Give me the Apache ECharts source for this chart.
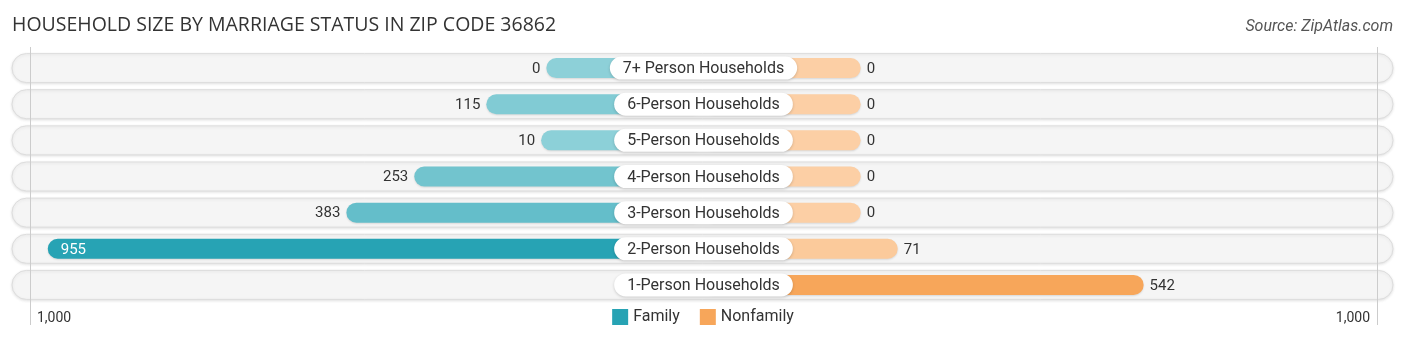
<!DOCTYPE html>
<html>
<head>
<meta charset="utf-8">
<script src="https://cdn.jsdelivr.net/npm/echarts@6/dist/echarts.min.js"></script>
<style>
  html, body { margin: 0; padding: 0; background: #ffffff; }
  #chart { width: 1406px; height: 341px; }
</style>
</head>
<body>
<div id="chart"></div>
<script>
// ---- data ----
const categories = ['7+ Person Households', '6-Person Households', '5-Person Households', '4-Person Households', '3-Person Households', '2-Person Households', '1-Person Households'];
const familyValues = [0, 115, 10, 253, 383, 955, null];
const nonfamilyValues = [0, 0, 0, 0, 0, 71, 542];
const tickLabels = ['1,000', '1,000'];
const seriesNames = ['Family', 'Nonfamily'];

// ---- styling constants ----
const AXIS_MAX = 1290;      // axis half-range in value units
const BAR_OFFSET = 301;     // bars start under the centre label
const FAMILY_DARK = [39, 163, 180], FAMILY_LIGHT = [141, 208, 216];
const NON_DARK = [247, 166, 90], NON_LIGHT = [252, 207, 165];
const FONT = 'Roboto, "Noto Sans", sans-serif';

function mix(a, b, t) {
  const c = a.map((v, i) => Math.round(b[i] + (v - b[i]) * t));
  return 'rgb(' + c.join(',') + ')';
}
const famMax = Math.max(...familyValues.filter(v => v != null));
const nonMax = Math.max(...nonfamilyValues.filter(v => v != null));

function barRenderer(side, dark, light, maxV) {
  return function (params, api) {
    const cat = api.value(0), v = api.value(1);
    if (v == null || isNaN(v)) return null;
    const p0 = api.coord([0, cat]);
    const p1 = api.coord([side * (BAR_OFFSET + v), cat]);
    const h = 20;
    const x = Math.min(p0[0], p1[0]);
    const w = Math.abs(p1[0] - p0[0]);
    const cs = params.coordSys;
    const inside = w > 0.8 * (cs.width / 2);
    const fill = mix(dark, light, maxV > 0 ? v / maxV : 0);
    const label = v.toLocaleString('en-US');
    let tx, align, color;
    if (inside) {
      tx = side < 0 ? p1[0] + 13 : p1[0] - 13;
      align = side < 0 ? 'left' : 'right';
      color = '#ffffff';
    } else {
      tx = side < 0 ? p1[0] - 6 : p1[0] + 6;
      align = side < 0 ? 'right' : 'left';
      color = '#333333';
    }
    return {
      type: 'group',
      children: [
        { type: 'rect', shape: { x: x, y: p0[1] - h / 2, width: w, height: h, r: h / 2 },
          style: { fill: fill, shadowBlur: 2, shadowColor: 'rgba(0,0,0,0.12)', shadowOffsetY: 1 } },
        { type: 'text', style: { x: tx, y: p0[1] + 1, text: label, align: align, verticalAlign: 'middle',
          fill: color, font: '15px ' + FONT } }
      ]
    };
  };
}

const chart = echarts.init(document.getElementById('chart'), null, { renderer: 'canvas' });

const option = {
  animation: false,
  backgroundColor: '#ffffff',
  title: [
    { text: 'HOUSEHOLD SIZE BY MARRIAGE STATUS IN ZIP CODE 36862', left: 7, top: 10,
      textStyle: { fontFamily: '"Open Sans", "DejaVu Sans", sans-serif', fontWeight: 'normal', fontSize: 19.5, color: '#333333' } },
    { text: 'Source: ZipAtlas.com', right: 8, top: 14,
      textStyle: { fontFamily: FONT, fontStyle: 'italic', fontWeight: 'normal', fontSize: 16, color: '#555555' } }
  ],
  legend: {
    data: seriesNames,
    bottom: 11,
    left: 'center',
    icon: 'rect',
    itemWidth: 16,
    itemHeight: 16,
    itemGap: 20,
    textStyle: { fontFamily: FONT, fontSize: 16, color: '#333333' }
  },
  grid: { left: 30, right: 29, top: 50, height: 253 },
  xAxis: {
    type: 'value',
    min: -AXIS_MAX, max: AXIS_MAX, interval: AXIS_MAX,
    axisLine: { show: false }, axisTick: { show: false }, splitLine: { show: false },
    axisLabel: {
      show: true, margin: 8, color: '#333333', fontFamily: FONT, fontSize: 14,
      alignMinLabel: 'left', alignMaxLabel: 'right',
      formatter: function (v) {
        if (v < 0) return '{l|' + tickLabels[0] + '}';
        if (v > 0) return '{r|' + tickLabels[1] + '}';
        return '';
      },
      rich: {
        l: { padding: [0, 0, 0, 7], fontSize: 14, color: '#333333', fontFamily: FONT },
        r: { padding: [0, 7, 0, 0], fontSize: 14, color: '#333333', fontFamily: FONT }
      }
    }
  },
  yAxis: {
    type: 'category', data: categories, inverse: true,
    axisLine: { show: false }, axisTick: { show: false }, axisLabel: { show: false }, splitLine: { show: false }
  },
  series: [
    {
      type: 'custom', name: 'bg', z: 1, silent: true,
      data: categories.map((c, i) => [i]),
      renderItem: function (params, api) {
        const p = api.coord([0, api.value(0)]);
        const cs = params.coordSys;
        const h = 29;
        return { type: 'rect', shape: { x: cs.x - 18, y: p[1] - h / 2, width: cs.width + 34, height: h, r: h / 2 },
          style: { fill: '#f5f5f5', stroke: '#dddddd', lineWidth: 1, shadowBlur: 3, shadowColor: 'rgba(0,0,0,0.10)', shadowOffsetY: 1 } };
      }
    },
    {
      type: 'custom', name: 'grid', z: 2, silent: true,
      data: [[-AXIS_MAX], [AXIS_MAX]],
      renderItem: function (params, api) {
        const p = api.coord([api.value(0), 0]);
        const cs = params.coordSys;
        return { type: 'line', shape: { x1: Math.round(p[0]) + 0.5, y1: cs.y - 3, x2: Math.round(p[0]) + 0.5, y2: cs.y + cs.height + 22 },
          style: { stroke: '#cccccc', lineWidth: 1 } };
      }
    },
    {
      type: 'custom', name: 'Family', z: 3,
      itemStyle: { color: 'rgb(39,163,180)' },
      data: familyValues.map((v, i) => [i, v == null ? '-' : v]),
      encode: { x: 1, y: 0 },
      renderItem: barRenderer(-1, FAMILY_DARK, FAMILY_LIGHT, famMax)
    },
    {
      type: 'custom', name: 'Nonfamily', z: 3,
      itemStyle: { color: 'rgb(247,166,90)' },
      data: nonfamilyValues.map((v, i) => [i, v == null ? '-' : v]),
      encode: { x: 1, y: 0 },
      renderItem: barRenderer(1, NON_DARK, NON_LIGHT, nonMax)
    },
    {
      type: 'custom', name: 'labels', z: 4, silent: true,
      data: categories.map((c, i) => [i]),
      renderItem: function (params, api) {
        const i = api.value(0);
        const p = api.coord([0, i]);
        const text = categories[i];
        const tw = echarts.format.getTextRect ? echarts.format.getTextRect(text, '16px ' + FONT).width : text.length * 8;
        const w = tw + 26, h = 23;
        return {
          type: 'group',
          children: [
            { type: 'rect', shape: { x: p[0] - w / 2, y: p[1] - h / 2, width: w, height: h, r: h / 2 },
              style: { fill: '#ffffff', shadowBlur: 3, shadowColor: 'rgba(0,0,0,0.18)', shadowOffsetY: 1 } },
            { type: 'text', style: { x: p[0], y: p[1] + 1, text: text, align: 'center', verticalAlign: 'middle',
              fill: '#333333', font: '16px ' + FONT } }
          ]
        };
      }
    }
  ]
};
chart.setOption(option);
</script>
</body>
</html>
